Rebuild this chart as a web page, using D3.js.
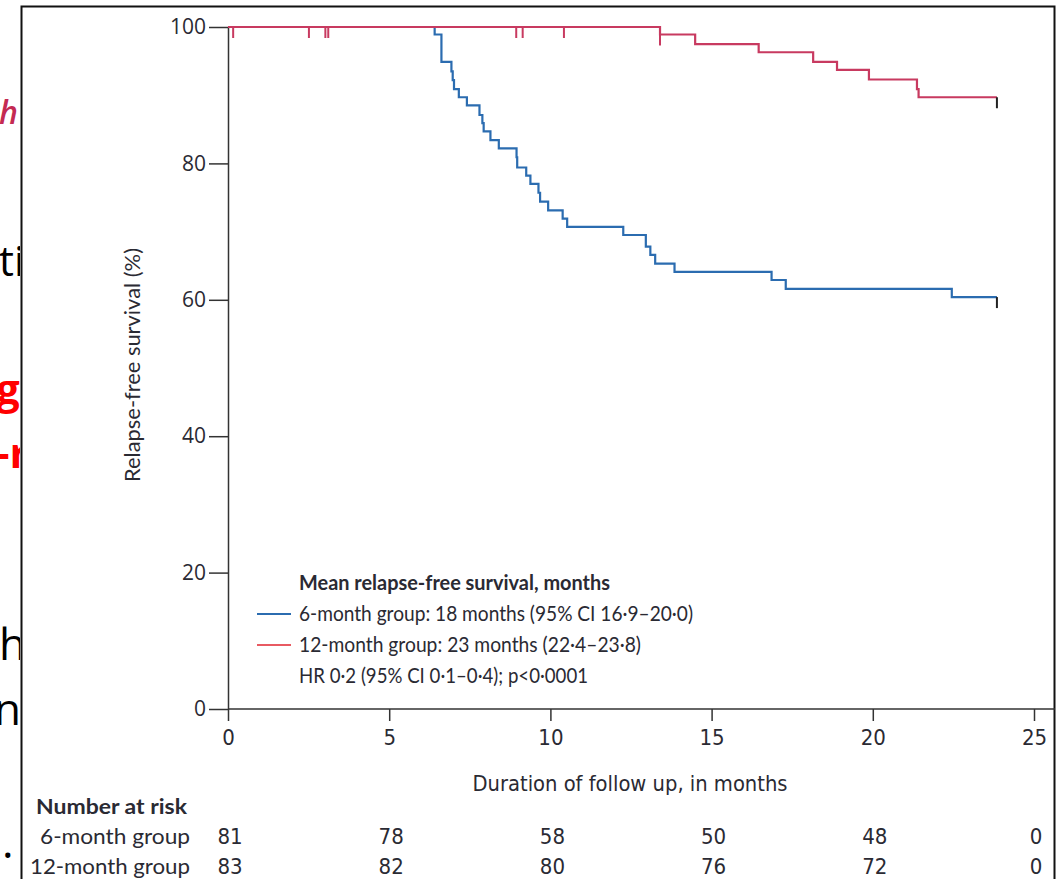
<!DOCTYPE html>
<html>
<head>
<meta charset="utf-8">
<script src="https://cdn.jsdelivr.net/npm/d3@7"></script>
<style>
  html, body { margin: 0; padding: 0; background: #fff; }
  svg { display: block; }
  .narrow { font-family: "Liberation Sans Narrow", "DejaVu Sans Condensed", "Lato", sans-serif; }
  .txt { font-family: "Lato", "Open Sans", sans-serif; }
</style>
</head>
<body>
<div id="chart"></div>
<script>
// 6-month group: event times (months) and survival (%) after each step
var sixTimes = [6.41, 6.62, 6.93, 6.97, 7.01, 7.16, 7.41, 7.80, 7.89, 7.93, 8.14, 8.40,
                8.95, 8.97, 9.25, 9.38, 9.63, 9.68, 9.93, 10.38, 10.52, 12.26, 12.96,
                13.10, 13.25, 13.85, 16.86, 17.30, 22.45];
var sixSurv  = [98.9, 94.9, 93.5, 92.2, 90.9, 89.7, 88.5, 87.1, 85.9, 84.7, 83.4, 82.2,
                80.9, 79.4, 78.2, 77.0, 75.7, 74.4, 73.1, 71.9, 70.7, 69.5, 67.8,
                66.6, 65.3, 64.1, 62.9, 61.6, 60.4];
// 12-month group
var twelveTimes = [13.40, 14.49, 16.46, 18.15, 18.89, 19.88, 21.37, 21.42];
var twelveSurv  = [98.9, 97.5, 96.3, 94.9, 93.7, 92.3, 90.9, 89.7];
var twelveCensor = [0.16, 2.51, 3.02, 3.11, 8.94, 9.14, 10.42, 13.40];
var endTime = 23.85;

var xTicks = [0, 5, 10, 15, 20, 25];
var yTicks = [0, 20, 40, 60, 80, 100];
var riskSix = [81, 78, 58, 50, 48, 0];
var riskTwelve = [83, 82, 80, 76, 72, 0];

var legendTitle = "Mean relapse-free survival, months";
var legendRows = [
  "6-month group: 18 months (95% CI 16·9–20·0)",
  "12-month group: 23 months (22·4–23·8)",
  "HR 0·2 (95% CI 0·1–0·4); p<0·0001"
];
var legendWidths = [394, 342, 289];

var width = 1063, height = 879;
var blue = "#2b6cb0", red = "#c83a60", axisColor = "#333", ink = "#2a2a33";

var svg = d3.select("#chart").append("svg")
    .attr("width", width)
    .attr("height", height);

// slide text peeking out at the left of the pasted figure
svg.append("clipPath").attr("id", "leftclip")
  .append("rect").attr("x", 0).attr("y", 0).attr("width", 20).attr("height", height);
var slide = svg.append("g").attr("clip-path", "url(#leftclip)")
    .style("font-family", "Open Sans, sans-serif");
slide.append("text").attr("x", -1).attr("y", 124).attr("font-size", 32)
    .attr("font-style", "italic").attr("font-weight", 600).attr("fill", "#c42a52").text("h l");
slide.append("text").attr("x", -1).attr("y", 276).attr("font-size", 42).attr("fill", "#000").text("tio");
slide.append("text").attr("x", -4).attr("y", 404).attr("font-size", 42)
    .attr("font-weight", 700).attr("fill", "#f00").text("gr");
slide.append("text").attr("x", -4).attr("y", 468).attr("font-size", 42)
    .attr("font-weight", 700).attr("fill", "#f00").text("-re");
slide.append("text").attr("x", -1).attr("y", 660).attr("font-size", 44).attr("fill", "#000").text("hi");
slide.append("text").attr("x", -6).attr("y", 725).attr("font-size", 44).attr("fill", "#000").text("nn");
slide.append("text").attr("x", 2).attr("y", 858).attr("font-size", 44).attr("fill", "#000").text(".");

// figure frame
svg.append("rect")
    .attr("x", 21.5).attr("y", 6.5)
    .attr("width", 1033).attr("height", 900)
    .attr("fill", "#fff").attr("stroke", "#111").attr("stroke-width", 2);

var x = d3.scaleLinear().domain([0, 25]).range([228, 1034]);
var y = d3.scaleLinear().domain([0, 100]).range([709, 27]);

// axes
var yAxis = svg.append("g")
    .attr("transform", "translate(" + x(0) + ",0)")
    .call(d3.axisLeft(y).tickValues(yTicks).tickSize(19).tickSizeOuter(0).tickPadding(3));
yAxis.select(".domain").attr("stroke", axisColor).attr("stroke-width", 1.5);
yAxis.selectAll(".tick line").attr("stroke", axisColor).attr("stroke-width", 1.5);
yAxis.selectAll(".tick text")
    .attr("fill", ink).attr("font-size", 21)
    .attr("font-family", "Open Sans, sans-serif");

var xAxis = svg.append("g")
    .attr("transform", "translate(0," + y(0) + ")")
    .call(d3.axisBottom(x).tickValues(xTicks).tickSize(12).tickSizeOuter(0).tickPadding(8));
xAxis.select(".domain").attr("d", "M" + x(0) + ",0H1055")
    .attr("stroke", axisColor).attr("stroke-width", 1.5);
xAxis.selectAll(".tick line").attr("stroke", axisColor).attr("stroke-width", 1.5);
xAxis.selectAll(".tick text")
    .attr("class", "narrow")
    .attr("fill", ink).attr("font-size", 22).attr("font-family", null);

svg.append("text")
    .attr("class", "txt")
    .attr("transform", "translate(140,365) rotate(-90)")
    .attr("text-anchor", "middle")
    .attr("font-size", 21).attr("fill", ink)
    .attr("textLength", 234).attr("lengthAdjust", "spacingAndGlyphs")
    .text("Relapse-free survival (%)");

svg.append("text")
    .attr("class", "narrow")
    .attr("x", 630).attr("y", 791)
    .attr("text-anchor", "middle")
    .attr("font-size", 22).attr("fill", ink)
    .attr("textLength", 315).attr("lengthAdjust", "spacingAndGlyphs")
    .text("Duration of follow up, in months");

// survival curves
function steps(times, surv) {
  var pts = [[0, 100]];
  times.forEach(function(t, i) { pts.push([t, surv[i]]); });
  pts.push([endTime, surv[surv.length - 1]]);
  return pts;
}
var line = d3.line()
    .x(function(d) { return x(d[0]); })
    .y(function(d) { return y(d[1]); })
    .curve(d3.curveStepAfter);

function survAt(times, surv, t) {
  var s = 100;
  times.forEach(function(tt, i) { if (tt <= t) s = surv[i]; });
  return s;
}

// blue first so the shared 100% segment reads red, as in the original
svg.append("path")
    .datum(steps(sixTimes, sixSurv))
    .attr("d", line)
    .attr("fill", "none").attr("stroke", blue).attr("stroke-width", 2.2);

svg.append("path")
    .datum(steps(twelveTimes, twelveSurv))
    .attr("d", line)
    .attr("fill", "none").attr("stroke", red).attr("stroke-width", 2.2);

// censor marks on 12-month group
svg.selectAll(".censor")
  .data(twelveCensor)
  .enter().append("line")
    .attr("class", "censor")
    .attr("x1", function(d) { return x(d); })
    .attr("x2", function(d) { return x(d); })
    .attr("y1", function(d) { return y(survAt(twelveTimes, twelveSurv, d)); })
    .attr("y2", function(d) { return y(survAt(twelveTimes, twelveSurv, d)) + 11; })
    .attr("stroke", red).attr("stroke-width", 2);

// end-of-follow-up ticks
[sixSurv[sixSurv.length - 1], twelveSurv[twelveSurv.length - 1]].forEach(function(s) {
  svg.append("line")
    .attr("x1", x(endTime)).attr("x2", x(endTime))
    .attr("y1", y(s)).attr("y2", y(s) + 11)
    .attr("stroke", "#222").attr("stroke-width", 2);
});

// legend
var lg = svg.append("g").attr("class", "txt").attr("fill", ink);
lg.append("text").attr("x", 299).attr("y", 590)
    .attr("font-size", 21).attr("font-weight", 700)
    .attr("textLength", 311).attr("lengthAdjust", "spacingAndGlyphs")
    .text(legendTitle);
var legendColors = [blue, "#e85a62", null];
legendRows.forEach(function(r, i) {
  var yy = 614 + i * 31;
  if (legendColors[i]) {
    lg.append("line").attr("x1", 257).attr("x2", 291)
      .attr("y1", yy).attr("y2", yy)
      .attr("stroke", legendColors[i]).attr("stroke-width", 2);
  }
  lg.append("text").attr("x", 299).attr("y", yy + 7)
    .attr("font-size", 21)
    .attr("textLength", legendWidths[i]).attr("lengthAdjust", "spacingAndGlyphs")
    .text(r);
});

// number at risk table
var risk = svg.append("g").attr("fill", ink);
risk.append("text").attr("class", "txt")
    .attr("x", 36).attr("y", 814).attr("font-size", 21).attr("font-weight", 700)
    .attr("textLength", 151).attr("lengthAdjust", "spacingAndGlyphs")
    .text("Number at risk");
[["6-month group", riskSix, 150], ["12-month group", riskTwelve, 160]].forEach(function(row, i) {
  var yy = 844 + i * 30;
  risk.append("text").attr("class", "txt")
    .attr("x", 190 - row[2]).attr("y", yy)
    .attr("font-size", 21)
    .attr("textLength", row[2]).attr("lengthAdjust", "spacingAndGlyphs")
    .text(row[0]);
  risk.selectAll(null)
    .data(row[1])
    .enter().append("text")
      .attr("class", "narrow")
      .attr("x", function(d, j) { return x(xTicks[j]) + 2; })
      .attr("y", yy)
      .attr("text-anchor", "middle")
      .attr("font-size", 22)
      .text(function(d) { return d; });
});
</script>
</body>
</html>
